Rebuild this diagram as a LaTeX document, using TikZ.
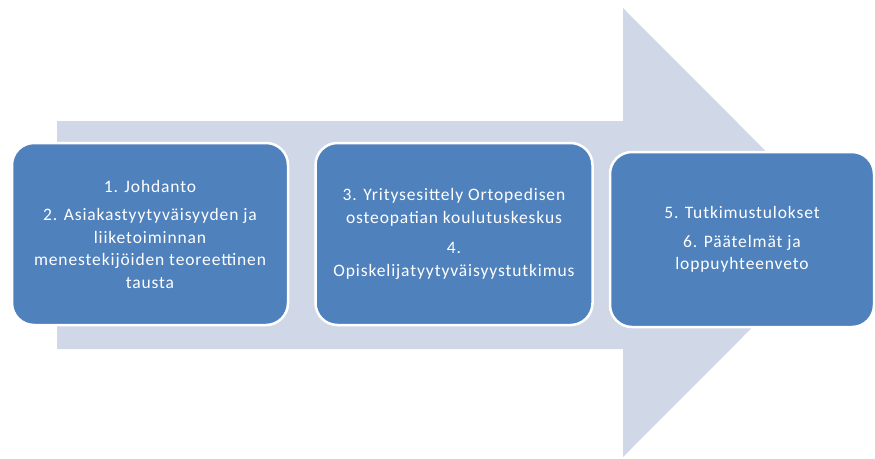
\documentclass[tikz,border=0pt]{standalone}
\usepackage{fontspec}
\setmainfont[LetterSpace=5]{Carlito}
\usetikzlibrary{positioning}
\definecolor{boxblue}{HTML}{4F81BD}
\definecolor{arrowgray}{HTML}{D0D8E8}

\begin{document}
\begin{tikzpicture} [
    x=1pt, y=-1pt,               % pixel-like units, y going down
    ]
% -------------------------------------------------
\tikzset{
  base/.style={draw=white, line width=2.5pt, fill=boxblue, text=white, align=center,
               rounded corners=22pt, font=\fontsize{17.5}{22.5}\selectfont},
  stage/.style={base, rectangle, minimum height=182pt},
}

    \useasboundingbox (0,0) rectangle (875,458);

    \fill[arrowgray] (57,121) -- (623,121) -- (623,8) -- (847,232.5)
        -- (623,457) -- (623,349) -- (57,349) -- cycle;              % big arrow

    \node [stage, minimum width=276pt] (jdh) at (150,234)
        {1. Johdanto\\[6pt]
         2. Asiakastyytyväisyyden ja\\ liiketoiminnan\\
         menestekijöiden teoreettinen\\ tausta};
    \node [stage, minimum width=277pt, right=25pt of jdh] (yrt)
        {3. Yritysesittely Ortopedisen\\ osteopatian koulutuskeskus\\[8pt]
         4.\\ Opiskelijatyytyväisyystutkimus};
    \node [stage, minimum width=264pt, minimum height=175pt] (tul) at (742,239.5)
        {5. Tutkimustulokset\\[6pt]
         6. Päätelmät ja\\ loppuyhteenveto};

\end{tikzpicture}
\end{document}
